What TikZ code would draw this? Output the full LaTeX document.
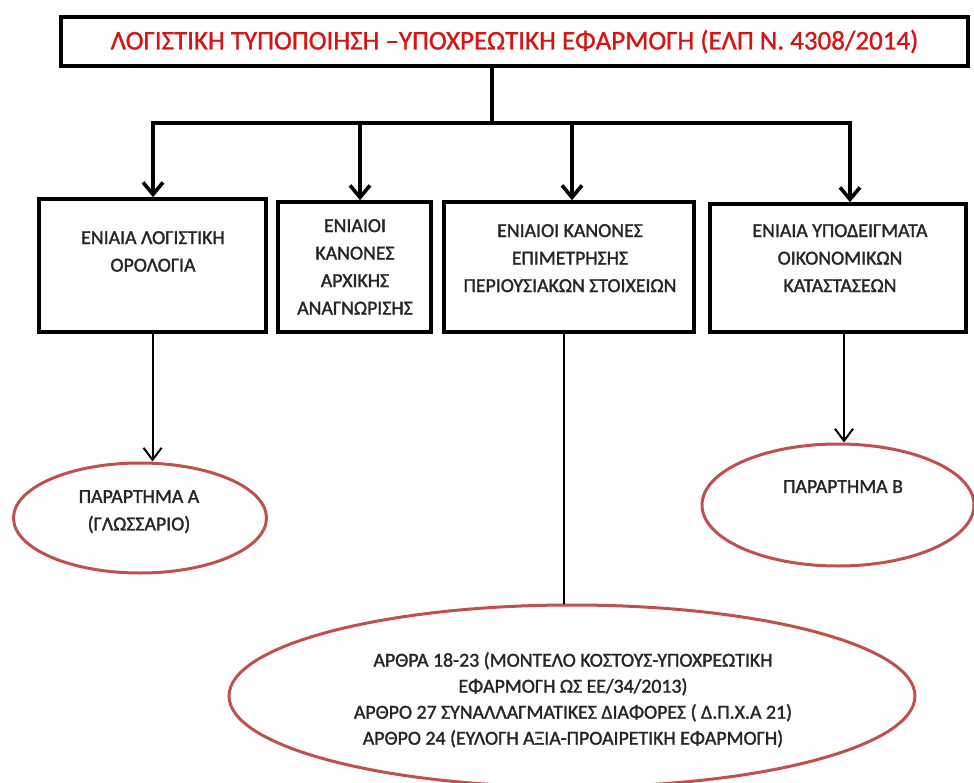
\documentclass[tikz,border=0pt]{standalone}
\usepackage{fontspec}
\setmainfont{Carlito}
\newfontfamily\semibfont{Carlito}[FakeBold=1.5]
\newfontfamily\titlefont{Carlito}[FakeBold=1]
\usetikzlibrary{arrows.meta,shapes.geometric,calc}
\definecolor{ellred}{RGB}{192,80,77}
\definecolor{titlered}{RGB}{215,20,20}
\definecolor{txtgray}{RGB}{38,38,38}
\begin{document}
\begin{tikzpicture}[x=1pt,y=-1pt,
  box/.style={draw=black,line width=3.6pt,fill=white,inner sep=0pt},
  oval/.style={ellipse,draw=ellred,line width=3pt,inner sep=0pt},
  txt/.style={text=txtgray,align=center,inner sep=0pt,anchor=north,font=\semibfont\fontsize{19.8}{27.5}\selectfont},
  thickarrow/.style={line width=3.6pt,-{Straight Barb[length=12pt,width=20pt,line width=3.6pt]}},
  thinarrow/.style={line width=2pt,-{Straight Barb[length=12pt,width=18pt,line width=2pt]}},
  thinline/.style={line width=2pt}]
\useasboundingbox (0,0) rectangle (974,783);
\begin{scope}
\clip (0,0) rectangle (974,783);
% top box
\node[box,minimum width=907pt,minimum height=49pt,text=titlered,font=\titlefont\fontsize{27}{32}\selectfont] (top) at (514.5,41.5)
  {ΛΟΓΙΣΤΙΚΗ ΤΥΠΟΠΟΙΗΣΗ –ΥΠΟΧΡΕΩΤΙΚΗ ΕΦΑΡΜΟΓΗ (ΕΛΠ Ν. 4308/2014)};
% second-level boxes
\node[box,minimum width=227pt,minimum height=133pt] (b1) at (152.5,265.5) {};
\node[box,minimum width=153pt,minimum height=130pt] (b2) at (354.5,267) {};
\node[box,minimum width=250pt,minimum height=130pt] (b3) at (569,267) {};
\node[box,minimum width=256pt,minimum height=128pt] (b4) at (838,268) {};
\node[txt] (b1t) at (153,231) {ΕΝΙΑΙΑ ΛΟΓΙΣΤΙΚΗ\\ΟΡΟΛΟΓΙΑ};
\node[txt] (b2t) at (355,219) {ΕΝΙΑΙΟΙ\\ΚΑΝΟΝΕΣ\\ΑΡΧΙΚΗΣ\\ΑΝΑΓΝΩΡΙΣΗΣ};
\node[txt] (b3t) at (570,224) {ΕΝΙΑΙΟΙ ΚΑΝΟΝΕΣ\\ΕΠΙΜΕΤΡΗΣΗΣ\\ΠΕΡΙΟΥΣΙΑΚΩΝ ΣΤΟΙΧΕΙΩΝ};
\node[txt] (b4t) at (840,224) {ΕΝΙΑΙΑ ΥΠΟΔΕΙΓΜΑΤΑ\\ΟΙΚΟΝΟΜΙΚΩΝ\\ΚΑΤΑΣΤΑΣΕΩΝ};
% ellipses
\node[oval,minimum width=253pt,minimum height=110pt] (ea) at (140,518) {};
\node[oval,minimum width=272pt,minimum height=122pt] (eb) at (838,505) {};
\node[oval,minimum width=686pt,minimum height=182pt] (ec) at (572,696) {};
\node[txt] (eat) at (139,490) {ΠΑΡΑΡΤΗΜΑ Α\\(ΓΛΩΣΣΑΡΙΟ)};
\node[txt] (ebt) at (843,480) {ΠΑΡΑΡΤΗΜΑ Β};
\node[txt,font=\semibfont\fontsize{19.8}{26}\selectfont] (ect) at (573,652)
  {ΑΡΘΡΑ 18-23 (ΜΟΝΤΕΛΟ ΚΟΣΤΟΥΣ-ΥΠΟΧΡΕΩΤΙΚΗ\\ΕΦΑΡΜΟΓΗ ΩΣ ΕΕ/34/2013)\\ΑΡΘΡΟ 27 ΣΥΝΑΛΛΑΓΜΑΤΙΚΕΣ ΔΙΑΦΟΡΕΣ ( Δ.Π.Χ.Α 21)\\ΑΡΘΡΟ 24 (ΕΥΛΟΓΗ ΑΞΙΑ-ΠΡΟΑΙΡΕΤΙΚΗ ΕΦΑΡΜΟΓΗ)};
% connectors from the top box
\coordinate (j) at (492,123);
\coordinate (a1) at (153,123);
\coordinate (a2) at (360,123);
\coordinate (a3) at (572,123);
\coordinate (a4) at (850,123);
\draw[line width=3.6pt] (top.south -| j) -- (j);
\draw[line width=3.6pt,line cap=rect] (a1) -- (a4);
\draw[thickarrow] (a1) -- (a1 |- b1.north);
\draw[thickarrow] (a2) -- (a2 |- b2.north);
\draw[thickarrow] (a3) -- (a3 |- b3.north);
\draw[thickarrow] (a4) -- (a4 |- b4.north);
% lower connectors
\coordinate (c3) at (564,334);
\coordinate (c4) at (844,334);
\draw[thinarrow] (b1.south) -- (b1.south |- ea.north);
\draw[thinline] (c3 |- b3.south) -- (c3 |- ec.north);
\draw[thinarrow] (c4 |- b4.south) -- (c4 |- eb.north);
\end{scope}
\end{tikzpicture}
\end{document}
